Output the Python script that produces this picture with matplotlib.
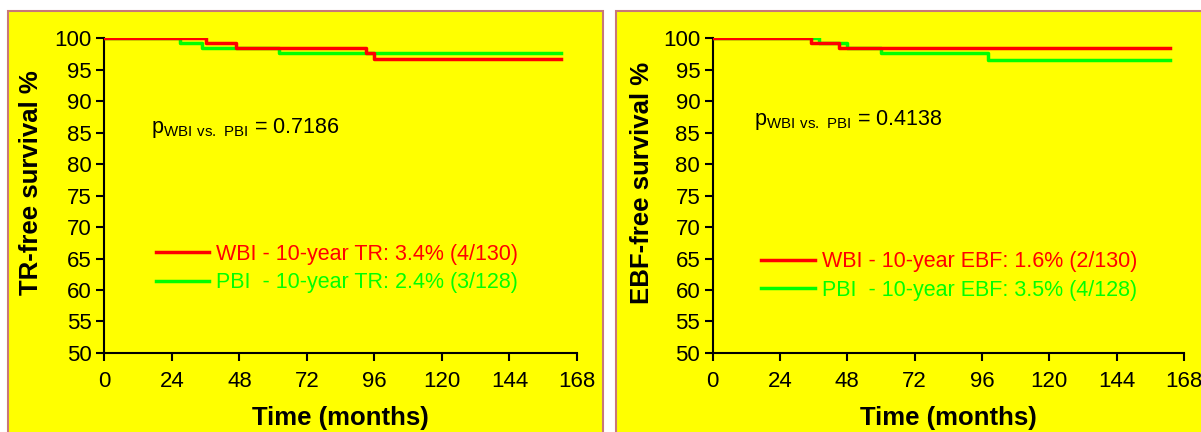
import matplotlib.pyplot as plt
from matplotlib.patches import Rectangle
from matplotlib.lines import Line2D

plt.rcParams['font.family'] = ['Liberation Sans', 'DejaVu Sans']
plt.rcParams['mathtext.fontset'] = 'custom'
plt.rcParams['mathtext.rm'] = 'Liberation Sans'

# Kaplan-Meier step data (months, survival %)
tr_wbi_t = [0, 36, 46.8, 93, 96, 162.4]
tr_wbi_s = [100, 99.23, 98.46, 97.6, 96.6, 96.6]
tr_pbi_t = [0, 26.9, 34.7, 61.9, 162.4]
tr_pbi_s = [100, 99.22, 98.44, 97.66, 97.66]

ebf_wbi_t = [0, 35, 45, 163]
ebf_wbi_s = [100, 99.23, 98.46, 98.46]
ebf_pbi_t = [0, 38, 48, 60, 98.3, 163]
ebf_pbi_s = [100, 99.22, 98.44, 97.6, 96.5, 96.5]

xticks = [0, 24, 48, 72, 96, 120, 144, 168]
yticks = list(range(50, 101, 5))

panels = [
    dict(ylabel="TR-free survival %", p="0.7186",
         wbi=(tr_wbi_t, tr_wbi_s), pbi=(tr_pbi_t, tr_pbi_s),
         lab_wbi="WBI - 10-year TR: 3.4% (4/130)",
         lab_pbi="PBI  - 10-year TR: 2.4% (3/128)",
         pos=[0.087, 0.1829, 0.3934, 0.729], bg=(8, 595),
         ppos=(16.5, 85.7), leg=(0.09, 0.375), ylx=-0.13),
    dict(ylabel="EBF-free survival %", p="0.4138",
         wbi=(ebf_wbi_t, ebf_wbi_s), pbi=(ebf_pbi_t, ebf_pbi_s),
         lab_wbi="WBI - 10-year EBF: 1.6% (2/130)",
         lab_pbi="PBI  - 10-year EBF: 3.5% (4/128)",
         pos=[0.5934, 0.1829, 0.3924, 0.729], bg=(616, 600),
         ppos=(14.7, 87.0), leg=(0.085, 0.35), ylx=-0.125),
]

RED = '#FF0000'
GREEN = '#00FF00'

fig = plt.figure(figsize=(12.01, 4.32), dpi=100)
fig.patch.set_facecolor('white')

for p in panels:
    x0, w = p['bg']
    bg = Rectangle((x0 / 1201, -0.1), w / 1201, 1.1 - 11 / 432,
                   transform=fig.transFigure, facecolor='#FFFF00',
                   edgecolor='#C87878', linewidth=1.5, zorder=-5)
    fig.add_artist(bg)

    ax = fig.add_axes(p['pos'])
    ax.set_zorder(2)
    ax.patch.set_alpha(0)
    t, s = p['pbi']
    ax.step(t, s, where='post', color=GREEN, lw=2.5, zorder=3)
    t, s = p['wbi']
    ax.step(t, s, where='post', color=RED, lw=2.5, zorder=4)

    ax.set_xlim(0, 168)
    ax.set_ylim(50, 100)
    ax.set_xticks(xticks)
    ax.set_yticks(yticks)
    for sp in ['top', 'right']:
        ax.spines[sp].set_visible(False)
    for sp in ['left', 'bottom']:
        ax.spines[sp].set_linewidth(1.5)
    ax.tick_params(direction='out', length=6, width=1.5, labelsize=16)
    ax.tick_params(axis='x', pad=7)
    ax.tick_params(axis='y', pad=3)
    ax.set_ylabel(p['ylabel'], fontsize=18.5, fontweight='bold')
    ax.yaxis.set_label_coords(p['ylx'], 0.54)
    ax.set_xlabel("Time (months)", fontsize=18.5, fontweight='bold', labelpad=10)

    ax.text(p['ppos'][0], p['ppos'][1],
            r"p$_{\mathrm{WBI\ vs.\ PBI}}$ = " + p['p'],
            fontsize=15.5, va='center', ha='left')

    handles = [Line2D([], [], color=RED, lw=2.5),
               Line2D([], [], color=GREEN, lw=2.5)]
    leg = ax.legend(handles, [p['lab_wbi'], p['lab_pbi']],
                    loc='upper left', bbox_to_anchor=p['leg'],
                    frameon=False, fontsize=15.5, handlelength=2.5,
                    handletextpad=0.3, labelspacing=0.35, borderaxespad=0)
    for txt, c in zip(leg.get_texts(), [RED, GREEN]):
        txt.set_color(c)

fig.savefig("out.png", dpi=100)
